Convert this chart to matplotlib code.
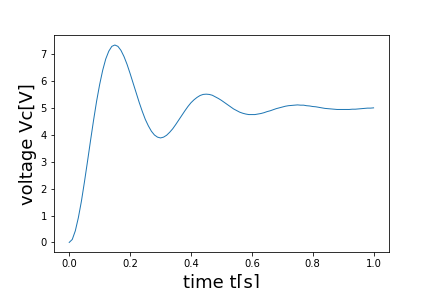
import matplotlib
matplotlib.use("Agg")
import matplotlib.pyplot as plt

# values (step 0.01 s)
t = [0.00, 0.01, 0.02, 0.03, 0.04, 0.05, 0.06, 0.07, 0.08, 0.09,
     0.10, 0.11, 0.12, 0.13, 0.14, 0.15, 0.16, 0.17, 0.18, 0.19,
     0.20, 0.21, 0.22, 0.23, 0.24, 0.25, 0.26, 0.27, 0.28, 0.29,
     0.30, 0.31, 0.32, 0.33, 0.34, 0.35, 0.36, 0.37, 0.38, 0.39,
     0.40, 0.41, 0.42, 0.43, 0.44, 0.45, 0.46, 0.47, 0.48, 0.49,
     0.50, 0.51, 0.52, 0.53, 0.54, 0.55, 0.56, 0.57, 0.58, 0.59,
     0.60, 0.61, 0.62, 0.63, 0.64, 0.65, 0.66, 0.67, 0.68, 0.69,
     0.70, 0.71, 0.72, 0.73, 0.74, 0.75, 0.76, 0.77, 0.78, 0.79,
     0.80, 0.81, 0.82, 0.83, 0.84, 0.85, 0.86, 0.87, 0.88, 0.89,
     0.90, 0.91, 0.92, 0.93, 0.94, 0.95, 0.96, 0.97, 0.98, 0.99,
     1.00]
vc = [0.00, 0.11, 0.43, 0.92, 1.53, 2.25, 3.01, 3.79, 4.55, 5.26,
      5.88, 6.41, 6.83, 7.12, 7.30, 7.35, 7.30, 7.15, 6.92, 6.63,
      6.29, 5.93, 5.57, 5.21, 4.88, 4.58, 4.34, 4.14, 4.00, 3.92,
      3.89, 3.92, 3.99, 4.10, 4.23, 4.39, 4.56, 4.73, 4.90, 5.06,
      5.20, 5.31, 5.40, 5.47, 5.51, 5.52, 5.51, 5.48, 5.42, 5.36,
      5.29, 5.21, 5.13, 5.05, 4.97, 4.91, 4.85, 4.81, 4.78, 4.76,
      4.76, 4.76, 4.78, 4.80, 4.83, 4.87, 4.90, 4.94, 4.98, 5.01,
      5.04, 5.07, 5.09, 5.10, 5.11, 5.12, 5.11, 5.11, 5.09, 5.08,
      5.06, 5.05, 5.03, 5.01, 4.99, 4.98, 4.97, 4.96, 4.95, 4.95,
      4.95, 4.95, 4.95, 4.96, 4.96, 4.97, 4.98, 4.99, 5.00, 5.00,
      5.01]

fig, ax = plt.subplots(figsize=(6, 4), dpi=72)
fig.subplots_adjust(left=0.125, right=0.90, bottom=0.124, top=0.878)
ax.plot(t, vc, linewidth=1)
ax.set_xlabel("time t[s]", fontsize=18)
ax.set_ylabel("voltage Vc[V]", fontsize=18)
fig.savefig("out.png")
